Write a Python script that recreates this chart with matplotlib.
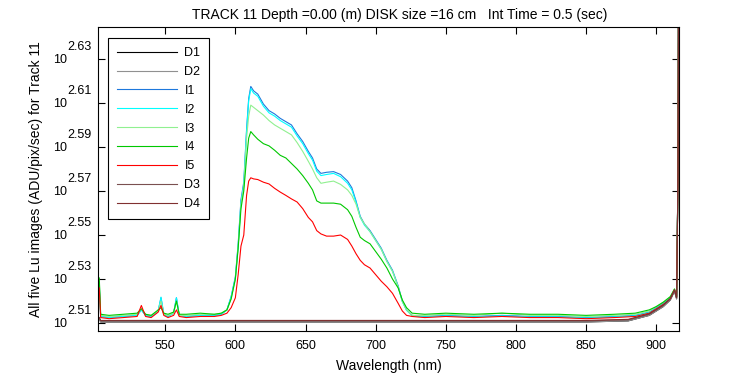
import numpy as np
import matplotlib
matplotlib.use("Agg")
import matplotlib.pyplot as plt
from matplotlib.ticker import FixedLocator, NullFormatter, NullLocator

plt.rcParams['font.family'] = ['Liberation Sans', 'DejaVu Sans']

# wavelength grid (nm) for the lamp images
wl = [503, 504, 510, 520, 530, 533, 536, 540, 545, 547, 549, 552, 556, 558, 560,
      565, 575, 585, 590, 594, 597, 600, 602, 604, 606, 608, 609.5, 611, 613, 616,
      620, 624, 628, 632, 636, 640, 644, 648, 652, 655, 658, 661, 665, 670, 675,
      680, 683, 686, 689, 692, 696, 700, 704, 708, 712, 716, 719, 722, 726, 735,
      750, 770, 790, 810, 830, 850, 870, 885, 895, 900, 905, 910, 913, 914.5, 915.5, 916]

# log10 of signal (ADU/pix/sec)
I1 = [2.527, 2.513, 2.5125, 2.513, 2.5135, 2.516, 2.5135, 2.513, 2.5155, 2.5215, 2.514, 2.513, 2.5145, 2.5215, 2.5135,
      2.513, 2.5135, 2.5135, 2.514, 2.516, 2.522, 2.531, 2.546, 2.566, 2.574, 2.598, 2.612, 2.6175, 2.6155, 2.614,
      2.6095, 2.6065, 2.605, 2.603, 2.6015, 2.600, 2.596, 2.5925, 2.588, 2.585, 2.580, 2.578, 2.5785, 2.5788, 2.5775,
      2.5745, 2.5715, 2.5655, 2.5585, 2.555, 2.552, 2.548, 2.544, 2.5385, 2.534, 2.527, 2.520, 2.516, 2.5135, 2.513,
      2.5135, 2.513, 2.5135, 2.513, 2.513, 2.5125, 2.513, 2.5135, 2.515, 2.517, 2.519, 2.5215, 2.525, 2.522, 2.579, 2.70]
I2 = [2.528, 2.513, 2.5125, 2.513, 2.5135, 2.516, 2.5135, 2.513, 2.5155, 2.5218, 2.514, 2.513, 2.5145, 2.5215, 2.5135,
      2.513, 2.5135, 2.5135, 2.514, 2.516, 2.522, 2.5305, 2.545, 2.565, 2.573, 2.597, 2.611, 2.6165, 2.6145, 2.613,
      2.6085, 2.6055, 2.604, 2.602, 2.6005, 2.599, 2.595, 2.5915, 2.587, 2.584, 2.579, 2.577, 2.5775, 2.578, 2.5765,
      2.5735, 2.5705, 2.565, 2.558, 2.5545, 2.5515, 2.5475, 2.5435, 2.538, 2.5335, 2.5265, 2.5198, 2.5158, 2.5133, 2.5128,
      2.5133, 2.5128, 2.5133, 2.5128, 2.5128, 2.5123, 2.5128, 2.5133, 2.5148, 2.5168, 2.5188, 2.5213, 2.525, 2.522, 2.579, 2.70]
I3 = [2.529, 2.5135, 2.513, 2.5135, 2.514, 2.5165, 2.514, 2.5135, 2.5155, 2.520, 2.514, 2.5135, 2.5145, 2.520, 2.5135,
      2.5135, 2.514, 2.514, 2.5145, 2.516, 2.521, 2.530, 2.545, 2.564, 2.572, 2.594, 2.604, 2.609, 2.608, 2.6065,
      2.6045, 2.602, 2.600, 2.5985, 2.597, 2.5955, 2.592, 2.588, 2.5835, 2.580, 2.576, 2.5735, 2.574, 2.5745, 2.573,
      2.5705, 2.568, 2.564, 2.558, 2.555, 2.5515, 2.5475, 2.5435, 2.538, 2.5335, 2.5265, 2.5198, 2.516, 2.5135, 2.5135,
      2.514, 2.5135, 2.5145, 2.5135, 2.5135, 2.513, 2.5135, 2.514, 2.5155, 2.5175, 2.5195, 2.522, 2.5255, 2.522, 2.579, 2.70]
I4 = [2.5305, 2.514, 2.5135, 2.514, 2.5145, 2.5165, 2.514, 2.5135, 2.516, 2.517, 2.5145, 2.514, 2.515, 2.520, 2.514,
      2.514, 2.5145, 2.514, 2.5145, 2.516, 2.521, 2.530, 2.544, 2.562, 2.570, 2.585, 2.594, 2.597, 2.5955, 2.5935,
      2.5915, 2.5905, 2.5885, 2.5862, 2.585, 2.5825, 2.580, 2.577, 2.5735, 2.5705, 2.5655, 2.5645, 2.5645, 2.5645, 2.564,
      2.5615, 2.5585, 2.5535, 2.549, 2.5475, 2.546, 2.5425, 2.539, 2.535, 2.530, 2.526, 2.5205, 2.517, 2.5145, 2.514,
      2.5145, 2.514, 2.5145, 2.514, 2.514, 2.5135, 2.514, 2.5145, 2.516, 2.5175, 2.5195, 2.522, 2.5255, 2.522, 2.579, 2.70]
I5 = [2.526, 2.5125, 2.512, 2.5125, 2.513, 2.518, 2.513, 2.5125, 2.515, 2.518, 2.5135, 2.5125, 2.5135, 2.516, 2.513,
      2.5125, 2.513, 2.513, 2.5135, 2.5145, 2.517, 2.5215, 2.532, 2.545, 2.550, 2.568, 2.5745, 2.576, 2.5755, 2.5752,
      2.574, 2.5732, 2.5712, 2.5695, 2.568, 2.5664, 2.565, 2.562, 2.558, 2.556, 2.552, 2.5505, 2.5495, 2.5495, 2.550,
      2.548, 2.545, 2.5415, 2.5385, 2.5365, 2.535, 2.532, 2.529, 2.5265, 2.5235, 2.519, 2.5155, 2.5135, 2.513, 2.5125,
      2.513, 2.5125, 2.513, 2.5125, 2.5125, 2.512, 2.5125, 2.513, 2.5145, 2.5165, 2.5185, 2.521, 2.525, 2.522, 2.579, 2.70]

# dark frames
wl_d = [503, 504, 550, 600, 650, 700, 750, 800, 850, 880, 895, 900, 905, 910, 913, 914.5, 915.5, 916]
D1 = [2.512, 2.5105, 2.5105, 2.5105, 2.5105, 2.5105, 2.5105, 2.5105, 2.5105, 2.511, 2.5135, 2.5155, 2.5175, 2.5205, 2.5245, 2.521, 2.578, 2.70]
D2 = [2.512, 2.5105, 2.5105, 2.5105, 2.5105, 2.5105, 2.5105, 2.5105, 2.5105, 2.511, 2.5135, 2.5155, 2.5175, 2.5205, 2.5245, 2.521, 2.578, 2.70]
D3 = [2.5125, 2.511, 2.511, 2.511, 2.511, 2.511, 2.511, 2.511, 2.511, 2.5115, 2.514, 2.516, 2.518, 2.521, 2.525, 2.5215, 2.578, 2.70]
D4 = [2.5125, 2.5112, 2.5112, 2.5112, 2.5112, 2.5112, 2.5112, 2.5112, 2.5112, 2.5117, 2.5142, 2.5162, 2.5182, 2.5212, 2.5252, 2.5215, 2.578, 2.70]

names = ["D1", "D2", "I1", "I2", "I3", "I4", "I5", "D3", "D4"]
colors = ["#000000", "#909090", "#1e78dc", "#00ffff", "#90f090", "#00c800", "#ff0000", "#7a5050", "#803030"]
series = [(wl_d, D1), (wl_d, D2), (wl, I1), (wl, I2), (wl, I3), (wl, I4), (wl, I5), (wl_d, D3), (wl_d, D4)]

ytick_exp = [2.51, 2.53, 2.55, 2.57, 2.59, 2.61, 2.63]
xticks = [550, 600, 650, 700, 750, 800, 850, 900]

fig = plt.figure(figsize=(7.5, 3.75), dpi=100)
ax = fig.add_axes([98/750, 1-331/375, 581/750, 304/375])

for (x, y), name, c in zip(series, names, colors):
    ax.plot(x, 10**np.array(y), color=c, lw=0.8, label=name)

ax.set_yscale('log')
ax.set_xlim(502.1, 916.2)
ax.set_ylim(10**2.5064, 10**2.6445)
ax.yaxis.set_major_locator(FixedLocator([10**e for e in ytick_exp]))
ax.yaxis.set_major_formatter(NullFormatter())
ax.yaxis.set_minor_locator(NullLocator())
ax.yaxis.set_minor_formatter(NullFormatter())
ax.set_xticks(xticks)
ax.tick_params(direction='in', top=True, right=True, labelsize=9, length=5, width=0.8, pad=6.5)
for s in ax.spines.values():
    s.set_linewidth(0.8)

# MATLAB style 10^x labels: base and exponent same size
for e in ytick_exp:
    ax.annotate('10', xy=(0, 10**e), xycoords=('axes fraction', 'data'),
                xytext=(-31*0.72, -1*0.72), textcoords='offset points',
                ha='right', va='center', fontsize=9)
    ax.annotate('%.2f' % e, xy=(0, 10**e), xycoords=('axes fraction', 'data'),
                xytext=(-31*0.72, 12*0.72), textcoords='offset points',
                ha='left', va='center', fontsize=9)

ax.set_xlabel('Wavelength (nm)', fontsize=10, labelpad=5)
ax.set_ylabel('All five Lu images (ADU/pix/sec) for Track 11', fontsize=10)
ax.yaxis.set_label_coords(-55/581, 0.5)
ax.set_title('TRACK 11 Depth =0.00 (m) DISK size =16 cm   Int Time = 0.5 (sec)',
             fontsize=10, pad=6, x=(400-98)/581)

leg = ax.legend(loc='upper left', bbox_to_anchor=(10/581, 1-11/304), borderaxespad=0,
                fontsize=9, handlelength=4.8, handletextpad=0.6, labelspacing=0.55,
                borderpad=0.72, fancybox=False, framealpha=1, edgecolor='black')
leg.get_frame().set_linewidth(0.8)

fig.savefig('out.png', dpi=100)
